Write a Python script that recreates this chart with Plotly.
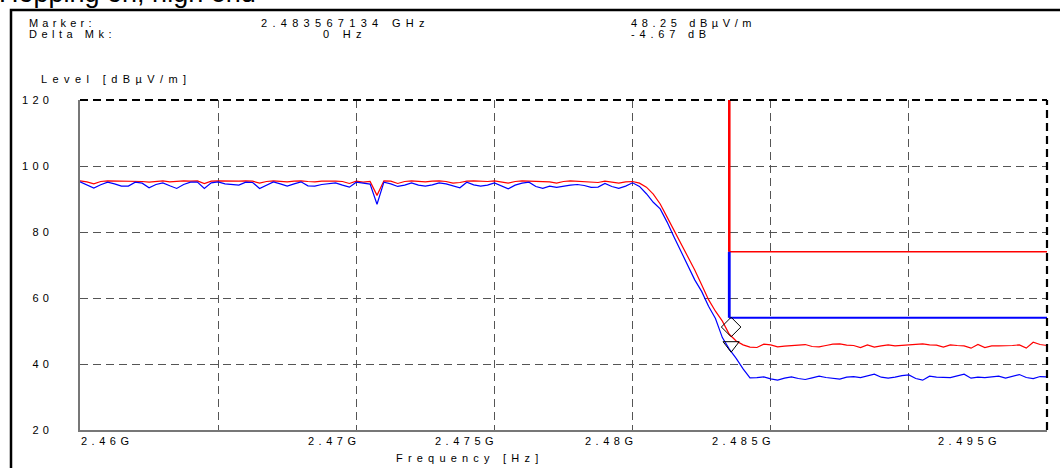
import numpy as np
import plotly.graph_objects as go

# ---------------- data ----------------
# analyzer sweep points (uniform 0.25 MHz steps, 2.46 .. 2.495 GHz)
freq_ghz = np.linspace(2.46, 2.495, 141)

red_level = [
    95.5, 95.2, 94.6, 95.3, 95.5, 95.5, 95.4, 95.5, 95.4, 95.3, 95.1, 95.4, 95.5, 95.2, 95.4, 95.5, 95.4, 95.5, 94.7, 95.4,
    95.5, 95.4, 95.3, 95.4, 95.5, 95.4, 94.8,
    95.3, 95.5, 95.4, 95.2, 95.4, 95.5, 95.3, 95.2, 95.4, 95.5, 95.4, 95.3, 94.7, 95.4, 95.1, 95.3, 91.1, 95.5, 95.4, 94.7,
    95.3, 95.5, 95.4, 95.2, 95.4, 95.5, 95.3, 94.8,
    95.0, 95.4, 95.5, 95.4, 95.3, 95.5, 95.1, 94.8, 95.3, 95.5, 95.4, 95.3, 95.4, 95.2, 94.8, 95.3, 95.5, 95.4, 95.3, 95.2,
    95.0, 95.4, 95.2, 94.8, 95.2, 95.3,
    94.8, 93.6, 91.5, 88.5, 84.5, 80.5, 76.5, 72.5, 68.5, 64.0, 59.5, 56.0, 53.0, 49.0, 47.0, 45.8, 45.1,
    45.0, 46.0, 45.8, 45.2, 45.4, 45.5, 45.6, 45.9, 45.3, 45.2, 45.6, 46.0, 46.1, 45.7, 45.6, 45.0, 45.8, 45.1, 45.5, 45.8,
    45.5, 45.7, 45.9, 46.0, 46.1, 45.8, 45.7, 45.1, 45.8, 45.6, 45.5, 44.8, 45.9, 45.0, 45.5, 45.5, 45.5, 45.6, 45.8, 44.8,
    46.6, 45.9, 45.6,
]

blue_level = [
    95.2, 94.3, 93.3, 94.3, 95.1, 94.6, 93.9, 93.9, 95.1, 94.8, 93.4, 94.4, 94.9, 94.0, 93.2, 94.4, 95.1, 95.1, 93.2, 94.9,
    95.2, 94.6, 94.4, 94.2, 95.1, 95.0, 93.2,
    94.2, 95.2, 94.6, 93.9, 94.6, 95.2, 94.0, 93.9, 94.4, 94.7, 94.9, 94.2, 93.6, 95.1, 94.9, 94.5, 88.4, 95.1, 94.6, 93.8,
    94.2, 94.9, 94.2, 93.9, 94.3, 94.9, 94.6, 93.9,
    93.4, 95.1, 94.3, 93.9, 94.2, 94.9, 94.0, 93.1, 94.2, 94.8, 95.1, 93.8, 93.2, 93.9, 93.5, 93.9, 94.2, 94.4, 94.1, 93.5,
    93.6, 94.7, 93.8, 93.2, 93.9, 94.9,
    93.8, 91.6, 89.0, 87.0, 83.0, 78.5, 74.0, 69.5, 65.5, 62.0, 57.5, 53.8, 48.0, 44.5, 41.7, 38.5, 35.8,
    35.9, 36.1, 35.5, 35.1, 35.7, 36.1, 35.6, 35.3, 35.8, 36.3, 35.9, 35.6, 35.4, 36.0, 36.2, 35.9, 36.4, 36.9, 36.0, 35.7,
    36.0, 36.5, 36.7, 35.6, 35.1, 36.3, 36.0, 35.9, 35.9, 36.4, 36.9, 35.7, 36.0, 35.9, 36.2, 36.3, 35.7, 36.3, 36.8, 35.9,
    35.6, 36.2, 36.1,
]

# limit lines (restricted band edge)
limit_edge_ghz = 2.4835
limit_end_ghz = 2.495
peak_limit = 74.0
avg_limit = 54.0
level_top = 120.0

# marker readout
marker_freq_ghz = 2.483567134
marker_level = 48.25
delta_level = -4.67

x_tick_vals = [2.46, 2.47, 2.475, 2.48, 2.485, 2.495]
x_tick_text = ["2.46G", "2.47G", "2.475G", "2.48G", "2.485G", "2.495G"]
y_tick_vals = [20, 40, 60, 80, 100, 120]
y_tick_text = ["20", "40", "60", "80", "100", "120"]

# ---------------- layout geometry ----------------
W, H = 1060, 468
ML, MR, MT, MB = 80, 13, 100, 38
PW, PH = W - ML - MR, H - MT - MB
X_RANGE = [2.46, 2.495]
Y_RANGE = [20, 120]
FONT = "Liberation Sans, Arial, sans-serif"


def px2x(px):
    return (px - ML) / PW


def py2y(py):
    return (H - MB - py) / PH


def spaced(text, ls):
    return '<span style="letter-spacing:%gpx">%s</span>' % (ls, text)


db_per_px = (Y_RANGE[1] - Y_RANGE[0]) / PH

fig = go.Figure()

fig.add_trace(go.Scatter(x=freq_ghz, y=red_level, mode="lines",
                         line=dict(color="#ff0000", width=1.2), showlegend=False))
fig.add_trace(go.Scatter(x=freq_ghz, y=blue_level, mode="lines",
                         line=dict(color="#0000ff", width=1.2), showlegend=False))

# limit lines
fig.add_trace(go.Scatter(x=[limit_edge_ghz, limit_edge_ghz], y=[level_top, peak_limit], mode="lines",
                         line=dict(color="#ff0000", width=2.6), showlegend=False))
fig.add_trace(go.Scatter(x=[limit_edge_ghz, limit_end_ghz], y=[peak_limit, peak_limit], mode="lines",
                         line=dict(color="#ff0000", width=1.5), showlegend=False))
fig.add_trace(go.Scatter(x=[limit_edge_ghz, limit_edge_ghz], y=[peak_limit, avg_limit], mode="lines",
                         line=dict(color="#0000ff", width=2.8), showlegend=False))
fig.add_trace(go.Scatter(x=[limit_edge_ghz, limit_end_ghz], y=[avg_limit, avg_limit], mode="lines",
                         line=dict(color="#0000ff", width=2), showlegend=False))

# markers: drawn with their tip at the measured value
diamond_size = 15
tri_size = 14
fig.add_trace(go.Scatter(x=[marker_freq_ghz], y=[marker_level + diamond_size * 0.65 * db_per_px],
                         mode="markers",
                         marker=dict(symbol="diamond-open", size=diamond_size, color="black",
                                     line=dict(width=1, color="black")),
                         showlegend=False))
fig.add_trace(go.Scatter(x=[marker_freq_ghz], y=[marker_level + delta_level + tri_size * 0.5 * db_per_px],
                         mode="markers",
                         marker=dict(symbol="triangle-down-open", size=tri_size, color="black",
                                     line=dict(width=1, color="black")),
                         showlegend=False))

grid_style = dict(showgrid=True, gridcolor="#555555", gridwidth=1.3, griddash="8px,5px",
                  zeroline=False, showline=True, linecolor="#777777", linewidth=1.5)

fig.update_layout(
    width=W, height=H, autosize=False,
    margin=dict(l=ML, r=MR, t=MT, b=MB, pad=0),
    paper_bgcolor="white", plot_bgcolor="white",
    font=dict(family=FONT, size=11, color="black"),
    xaxis=dict(range=X_RANGE, tick0=2.46, dtick=0.005, showticklabels=False, ticks="", **grid_style),
    yaxis=dict(range=Y_RANGE, tickmode="array", tickvals=y_tick_vals,
               ticktext=[spaced(t, 4.2) for t in y_tick_text],
               ticks="", ticklabelstandoff=23, tickfont=dict(family=FONT, size=11, color="black"),
               **grid_style),
)

annotations = []
# x tick labels
for i, (v, t) in enumerate(zip(x_tick_vals, x_tick_text)):
    if i == 0:
        anchor, shift = "left", -1
    elif i == len(x_tick_vals) - 1:
        anchor, shift = "right", -44
    else:
        anchor, shift = "right", 6
    annotations.append(dict(x=v, y=py2y(441), xref="x", yref="paper", text=spaced(t, 4.5),
                            showarrow=False, xanchor=anchor, yanchor="middle", xshift=shift,
                            font=dict(family=FONT, size=11, color="black")))

annotations += [
    dict(x=px2x(469), y=py2y(457.5), text=spaced("Frequency [Hz]", 5.2), xanchor="center"),
    dict(x=px2x(39), y=py2y(79.2), text=spaced("Level [dBµV/m]", 5.4), xanchor="left"),
    dict(x=px2x(27), y=py2y(22.8), text=spaced("Marker:", 4.2), xanchor="left"),
    dict(x=px2x(27), y=py2y(34.2), text=spaced("Delta Mk:", 4.5), xanchor="left"),
    dict(x=px2x(345), y=py2y(22.8), text=spaced("%.9f GHz" % marker_freq_ghz, 5.3), xanchor="center"),
    dict(x=px2x(345), y=py2y(34.2), text=spaced("0 Hz", 5.3), xanchor="center"),
    dict(x=px2x(629), y=py2y(22.8), text=spaced("%.2f dBµV/m" % marker_level, 4.6), xanchor="left"),
    dict(x=px2x(629), y=py2y(34.2), text=spaced("%.2f dB" % delta_level, 4.8), xanchor="left"),
]
for a in annotations[len(x_tick_vals):]:
    a.update(xref="paper", yref="paper", showarrow=False, yanchor="middle",
             font=dict(family=FONT, size=11, color="black"))

annotations.append(dict(x=px2x(-3), y=py2y(10.5), xref="paper", yref="paper", text="Hopping on, high end",
                        showarrow=False, xanchor="left", yanchor="bottom",
                        font=dict(family=FONT, size=27, color="black")))
fig.update_layout(annotations=annotations)

shapes = [
    # outer frame
    dict(type="rect", xref="paper", yref="paper", x0=px2x(11), x1=px2x(1075), y0=py2y(10), y1=py2y(485),
         line=dict(color="black", width=2.5), fillcolor="rgba(0,0,0,0)", layer="above"),
    # dashed top and right borders of the plot area
    dict(type="line", xref="paper", yref="paper", x0=0, x1=1, y0=1, y1=1,
         line=dict(color="black", width=2, dash="8px,5px"), layer="above"),
    dict(type="line", xref="paper", yref="paper", x0=1, x1=1, y0=0, y1=1,
         line=dict(color="black", width=2.2, dash="8px,5px"), layer="above"),
]
fig.update_layout(shapes=shapes)

fig.write_html("out.html", config={"displayModeBar": False},
               post_script="document.body.style.margin='0';document.body.style.overflow='hidden';")
